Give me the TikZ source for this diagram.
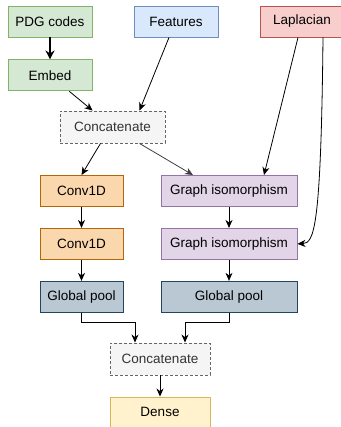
\documentclass[tikz,border=0pt]{standalone}
\usepackage{fontspec}
\setmainfont{Liberation Sans}
\usetikzlibrary{arrows.meta, positioning, calc}

\definecolor{greenF}{HTML}{D5E8D4}\definecolor{greenD}{HTML}{82B366}
\definecolor{blueF}{HTML}{DAE8FC}\definecolor{blueD}{HTML}{6C8EBF}
\definecolor{redF}{HTML}{F8CECC}\definecolor{redD}{HTML}{B85450}
\definecolor{orangeF}{HTML}{FAD7AC}\definecolor{orangeD}{HTML}{B46504}
\definecolor{purpleF}{HTML}{E1D5E7}\definecolor{purpleD}{HTML}{9673A6}
\definecolor{slateF}{HTML}{BAC8D3}\definecolor{slateD}{HTML}{23445D}
\definecolor{yellowF}{HTML}{FFF2CC}\definecolor{yellowD}{HTML}{D6B656}
\definecolor{catF}{HTML}{F5F5F5}\definecolor{catD}{HTML}{666666}
\definecolor{catT}{HTML}{333333}

\begin{document}
\begin{tikzpicture}[
    x=1pt, y=-1pt,
    >={Stealth[length=8pt, width=7pt, inset=2.5pt]},
    font=\fontsize{13.5}{16}\selectfont,
    box/.style={rectangle, line width=0.9pt, minimum height=31pt, inner sep=0pt, align=center},
    embedbox/.style={box, draw=greenD, fill=greenF, minimum width=84pt},
    featbox/.style={box, draw=blueD, fill=blueF, minimum width=84pt},
    lapbox/.style={box, draw=redD, fill=redF, minimum width=84pt},
    convbox/.style={box, draw=orangeD, fill=orangeF, minimum width=83pt},
    ginbox/.style={box, draw=purpleD, fill=purpleF, minimum width=136pt},
    poolbox/.style={box, draw=slateD, fill=slateF},
    catbox/.style={box, draw=catD, fill=catF, text=catT, dash pattern=on 3pt off 2pt, minimum height=32pt},
    densebox/.style={box, draw=yellowD, fill=yellowF, minimum width=100pt, minimum height=30pt},
    link/.style={->, line width=0.8pt}
]
\useasboundingbox (0,0) rectangle (340,427);

% Inputs
\node[embedbox] (pdg) at (50,21.5) {PDG codes};
\node[featbox] (feat) at (176,21.5) {Features};
\node[lapbox] (lap) at (302,21.5) {Laplacian};
\node[embedbox] (embed) [below=22pt of pdg] {Embed};

\draw[-{Stealth[length=9pt, width=9pt, inset=3pt]}, line width=2pt] (pdg) -- (embed);

% First concatenation
\node[catbox, minimum width=105pt] (cat1) at (112.5,127) {Concatenate};
\draw[link] (embed) -- (cat1);
\draw[link] ($(feat.south)+(-7,0)$) -- ($(cat1.north)+(27,0)$);

% Conv branch
\node[convbox] (conv1) at (81.5,191) {Conv1D};
\node[convbox] (conv2) [below=21pt of conv1] {Conv1D};
\node[poolbox, minimum width=83pt] (pool1) [below=21pt of conv2] {Global pool};

\draw[link] ($(cat1.south)+(-12,0)$) -- (conv1.north);
\draw[link] (conv1) -- (conv2);
\draw[link] (conv2) -- (pool1);

% Graph branch
\node[ginbox] (gin1) at (229,191) {Graph isomorphism};
\node[ginbox] (gin2) [below=21pt of gin1] {Graph isomorphism};
\node[poolbox, minimum width=136pt] (pool2) [below=21pt of gin2] {Global pool};

\draw[link, black!75] ($(cat1.south)+(27,0)$) -- ($(gin1.north)+(-36,0)$);
\draw[link] ($(lap.south)+(-4,0)$) -- ($(gin1.north)+(35,0)$);
\draw[link] ($(lap.south)+(21,0)$) .. controls (321,230) and (314,243) .. (gin2.east);
\draw[link] (gin1) -- (gin2);
\draw[link] (gin2) -- (pool2);

% Output
\node[catbox, minimum width=100pt] (cat2) at (160,359) {Concatenate};
\node[densebox] (dense) at (160,412) {Dense};

\draw[link] (pool1.south) -- ++(0,10) -| ($(cat2.north)+(-25,0)$);
\draw[link] (pool2.south) -- ++(0,10) -| ($(cat2.north)+(25,0)$);
\draw[link] (cat2) -- (dense);

\end{tikzpicture}
\end{document}
